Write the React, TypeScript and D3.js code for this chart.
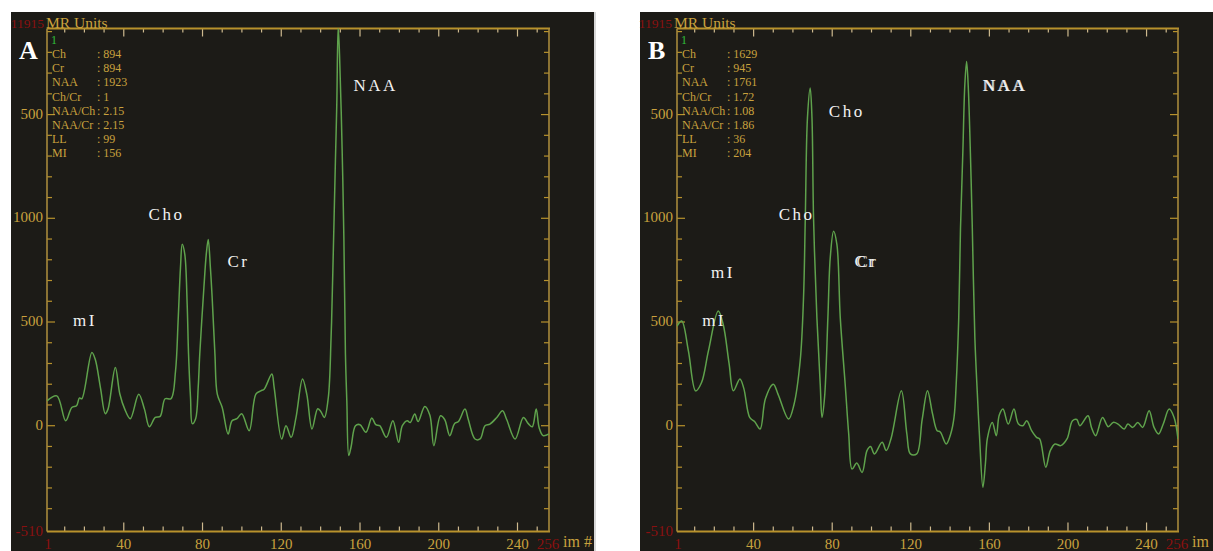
import React from "react";
import * as d3 from "d3";

// ---------- data ----------
const IDX_A = [1, 6, 10.5, 13.6, 16, 17.5, 18.7, 23.8, 25.5, 28.2, 30.6, 32, 35.7, 38, 40.5, 43.3, 47.6, 50.5, 53, 56, 58.5, 61, 64, 66.3, 67.6, 68.8, 69.7, 71, 72.2, 72.9, 73.9, 74.8, 76.5, 77.8, 78.6, 80.7, 81.9, 82.9, 84, 84.9, 86.3, 87.5, 90, 93, 95, 97.5, 99.9, 103.7, 107.1, 109.6, 111.3, 115.2, 116.4, 120.2, 122.4, 125, 127.5, 130.8, 133, 135.6, 138.5, 140, 141.9, 143.9, 145.3, 146.2, 147.5, 148.2, 148.9, 149.6, 150.9, 151.8, 152.6, 153.3, 154.3, 155.5, 157.7, 160, 163, 166, 168, 170, 173.4, 176.7, 179.6, 181.5, 184, 185.5, 187.8, 189.5, 192.9, 195.5, 197.5, 200.9, 203, 205.6, 208, 210, 213.3, 215, 218.4, 221, 223.5, 226, 229.5, 232.4, 234.5, 238.8, 243, 245.5, 247.5, 249.5, 251, 253, 256];
const VAL_A = [120, 144, 24, 88, 96, 134, 130, 353, 320, 180, 58, 80, 281, 153, 80, 34, 152, 80, -5, 40, 45, 130, 130, 265, 505, 762, 875, 826, 586, 346, 136, 10, 34, 184, 346, 666, 826, 898, 762, 617, 345, 152, 88, -40, 24, 34, 58, -24, 152, 168, 176, 249, 184, -64, 0, -56, 40, 225, 150, -16, 82, 70, 40, 136, 425, 746, 1275, 1548, 1923, 1789, 1339, 906, 345, 120, -144, -100, 0, 5, -32, 37, 5, 0, -56, 24, -80, 0, 24, 15, 56, 20, 93, 50, -96, 48, 30, -48, 10, 20, 80, 30, -64, -64, 0, 8, 40, 72, 30, -64, 40, 10, -5, 80, -10, -48, -40];

const IDX_B = [1, 3.4, 6.8, 10.5, 13.5, 17, 22, 24.5, 27.5, 29.7, 33, 35, 38, 40.5, 43.3, 46, 50, 52.5, 57.8, 60.5, 63.7, 65.4, 66.3, 67.4, 68.8, 69.7, 70.5, 72.2, 73.9, 74.8, 76.1, 77.8, 79, 80.7, 82.4, 84.1, 86.6, 88.4, 90.1, 92.5, 95.2, 97.7, 99.5, 101.5, 105.4, 107.5, 110, 115.2, 118, 119.8, 123, 125.8, 128.5, 131, 133.4, 135, 138, 140.3, 142, 143.1, 144.4, 145.3, 146.5, 147.5, 148.4, 149.2, 150.4, 151.3, 152.6, 153.8, 155, 156.7, 158, 159, 161.5, 163.5, 165, 166.9, 169.6, 172.5, 174.7, 177, 179, 181.5, 184, 185.6, 188.7, 191, 193.4, 196.3, 199.5, 202.3, 204.5, 206, 210.2, 212, 214.1, 217.6, 220.5, 223, 225.5, 228.6, 230.5, 233, 235.5, 238, 241.3, 243.8, 246.1, 248.5, 251.5, 254, 256];
const VAL_B = [480, 505, 361, 168, 208, 361, 553, 489, 300, 168, 225, 180, 40, 20, -16, 130, 200, 150, 32, 100, 313, 617, 1002, 1484, 1628, 1484, 1002, 521, 200, 40, 136, 521, 810, 938, 873, 521, 200, -40, -209, -180, -225, -120, -100, -136, -80, -120, -60, 168, -40, -136, -136, 30, 168, 60, -24, -30, -88, -40, 40, 200, 521, 954, 1323, 1644, 1756, 1644, 1291, 954, 425, 168, -56, -297, -180, -60, 16, -48, 50, 80, 8, 80, 10, 0, 24, -24, -56, -64, -200, -120, -88, -96, -64, 24, 30, 0, 48, -10, -48, 40, -5, 16, 8, -16, 8, -8, 16, -8, 72, -8, -40, 8, 80, 40, -64];

const LEGEND_KEYS = ["Ch", "Cr", "NAA", "Ch/Cr", "NAA/Ch", "NAA/Cr", "LL", "MI"];
const LEGEND_A = ["894", "894", "1923", "1", "2.15", "2.15", "99", "156"];
const LEGEND_B = ["1629", "945", "1761", "1.72", "1.08", "1.86", "36", "204"];

const X_TICK_LABELS = [40, 80, 120, 160, 200, 240];
const Y_TICK_VALUES = [0, 500, 1000, 1500];
const Y_TICK_TEXT = ["0", "500", "1000", "500"];
const X_MIN = 1, X_MAX = 256, Y_MIN = -510, Y_MAX = 1915;

// peak labels: [text, x index, value-position, doubled offset]
const PEAKS_A: [string, number, number, number][] = [
  ["NAA", 156.7, 1615, 0],
  ["Cho", 52.6, 990, 0],
  ["Cr", 92.7, 764, 0],
  ["mI", 14.2, 480, 0],
];
const PEAKS_B: [string, number, number, number][] = [
  ["NAA", 156.5, 1615, 1],
  ["Cho", 78.3, 1490, 0],
  ["Cho", 52.8, 990, 0],
  ["Cr", 91.3, 764, 2],
  ["mI", 18.3, 710, 0],
  ["mI", 13.8, 480, 0],
];

// ---------- style ----------
const BG = "#1c1b17";
const GOLD = "#b8922c";
const GOLD_TXT = "#c9a23e";
const TICK_LIGHT = "#cdb98e";
const RED = "#8a1010";
const GREEN = "#5fa24c";
const FONT = "'Liberation Serif', 'DejaVu Serif', serif";

type PanelProps = {
  id: string;
  letter: string;
  darkX: number;
  darkW: number;
  ax0: number;
  ax1: number;
  idx: number[];
  vals: number[];
  legend: string[];
  peaks: [string, number, number, number][];
  legendShift: number;
};

function Panel(p: PanelProps) {
  const top = 28.5, bottom = 531.5;
  const x = d3.scaleLinear().domain([X_MIN, X_MAX]).range([p.ax0, p.ax1]);
  const y = d3.scaleLinear().domain([Y_MIN, Y_MAX]).range([bottom, top]);
  const line = d3
    .line<number>()
    .x((_, i) => x(p.idx[i]))
    .y((d) => y(d))
    .curve(d3.curveCatmullRom.alpha(0.5));
  const xMinor = d3.range(10, 256, 10);
  const yMinor = d3.range(-400, 1901, 100);
  const clipId = "clip-" + p.id;

  return (
    <g>
      <rect x={p.darkX} y={12} width={p.darkW} height={551 - 12} fill={BG} />
      <defs>
        <clipPath id={clipId}>
          <rect x={p.ax0} y={top} width={p.ax1 - p.ax0} height={bottom - top} />
        </clipPath>
      </defs>

      {xMinor.map((t) => {
        const major = t % 40 === 0;
        return (
          <g key={"xt" + t}>
            <line x1={x(t)} x2={x(t)} y1={bottom} y2={bottom - (major ? 9 : 5)} stroke={TICK_LIGHT} strokeWidth={1.2} />
            <line x1={x(t)} x2={x(t)} y1={top} y2={top + (major ? 8 : 4)} stroke={TICK_LIGHT} strokeWidth={1.2} />
          </g>
        );
      })}
      {yMinor.map((t) => {
        const major = t % 500 === 0;
        return (
          <g key={"yt" + t}>
            <line x1={p.ax0} x2={p.ax0 + (major ? 8 : 5)} y1={y(t)} y2={y(t)} stroke={GOLD} strokeWidth={1.2} />
            <line x1={p.ax1} x2={p.ax1 - (major ? 8 : 5)} y1={y(t)} y2={y(t)} stroke={GOLD} strokeWidth={1.2} />
          </g>
        );
      })}

      <line x1={p.ax0} x2={p.ax1 + 1} y1={top} y2={top} stroke={GOLD} strokeWidth={2} />
      <line x1={p.ax0} x2={p.ax1 + 1} y1={bottom} y2={bottom} stroke={GOLD} strokeWidth={2.2} />
      <line x1={p.ax0} x2={p.ax0} y1={top} y2={bottom} stroke="#a88a3c" strokeWidth={1.6} />
      <line x1={p.ax1} x2={p.ax1} y1={top} y2={bottom} stroke="#a88a3c" strokeWidth={1.6} />

      <path d={line(p.vals) || ""} fill="none" stroke={GREEN} strokeWidth={1.5} clipPath={`url(#${clipId})`} />

      {Y_TICK_VALUES.map((v, i) => (
        <text key={"yl" + i} x={p.ax0 - 4} y={y(v) + 4} textAnchor="end" fontFamily={FONT} fontSize={15} fill={GOLD_TXT}>
          {Y_TICK_TEXT[i]}
        </text>
      ))}
      <text x={p.ax0 - 4} y={y(Y_MIN) + 4} textAnchor="end" fontFamily={FONT} fontSize={15} fill={RED}>
        {String(Y_MIN)}
      </text>

      {X_TICK_LABELS.map((v) => (
        <text key={"xl" + v} x={x(v)} y={549} textAnchor="middle" fontFamily={FONT} fontSize={15} fill={GOLD_TXT}>
          {v}
        </text>
      ))}
      <text x={x(X_MIN) + 1} y={549} textAnchor="middle" fontFamily={FONT} fontSize={15} fill={RED}>
        {X_MIN}
      </text>
      <text x={x(X_MAX) - 1} y={549} textAnchor="middle" fontFamily={FONT} fontSize={15} fill={RED}>
        {X_MAX}
      </text>
      <text x={p.ax1 + 14} y={547} fontFamily={FONT} fontSize={16} fill={GOLD_TXT}>
        im #
      </text>

      <text x={p.ax0 - 3 + p.legendShift} y={28} textAnchor="end" fontFamily={FONT} fontSize={13.5} fill={RED}>
        11915
      </text>
      <text x={p.ax0 - 1 + p.legendShift} y={27.5} fontFamily={FONT} fontSize={15.5} fill={GOLD_TXT}>
        MR Units
      </text>
      <text x={p.darkX + 8} y={59} fontFamily={FONT} fontSize={26} fontWeight="bold" fill="#ffffff">
        {p.letter}
      </text>

      <text x={p.ax0 + 4} y={44} fontFamily={FONT} fontSize={12} fill="#2fbf3a">
        1
      </text>
      {LEGEND_KEYS.map((k, i) => (
        <g key={"lg" + i}>
          <text x={p.ax0 + 5} y={58 + i * 14.2} fontFamily={FONT} fontSize={12} fill={GOLD_TXT} textLength={undefined}>
            {k}
          </text>
          <text x={p.ax0 + 50} y={58 + i * 14.2} fontFamily={FONT} fontSize={12} fill={GOLD_TXT}>
            {": " + p.legend[i]}
          </text>
        </g>
      ))}

      {p.peaks.map(([t, xi, yv, dbl], i) => (
        <g key={"pk" + i}>
          {dbl > 0 && (
            <text x={x(xi) + dbl} y={y(yv)} fontFamily={FONT} fontSize={17} letterSpacing={2.5} fill="#d8d8d8">
              {t}
            </text>
          )}
          <text x={x(xi)} y={y(yv)} fontFamily={FONT} fontSize={17} letterSpacing={2.5} fill="#f2f2f2">
            {t}
          </text>
        </g>
      ))}
    </g>
  );
}

export default function App() {
  return (
    <svg
      width={1213}
      height={551}
      viewBox="0 0 1213 551"
      style={{ position: "absolute", left: 0, top: 0, background: "#ffffff" }}
    >
      <rect x={0} y={0} width={1213} height={551} fill="#ffffff" />
      <Panel id="a" letter="A" darkX={11} darkW={583} ax0={47} ax1={549} idx={IDX_A} vals={VAL_A} legend={LEGEND_A} peaks={PEAKS_A} legendShift={0} />
      <line x1={595} x2={595} y1={12} y2={551} stroke="#b0b0b0" strokeWidth={1} />
      <Panel id="b" letter="B" darkX={640} darkW={600} ax0={677} ax1={1178} idx={IDX_B} vals={VAL_B} legend={LEGEND_B} peaks={PEAKS_B} legendShift={-2} />
    </svg>
  );
}
